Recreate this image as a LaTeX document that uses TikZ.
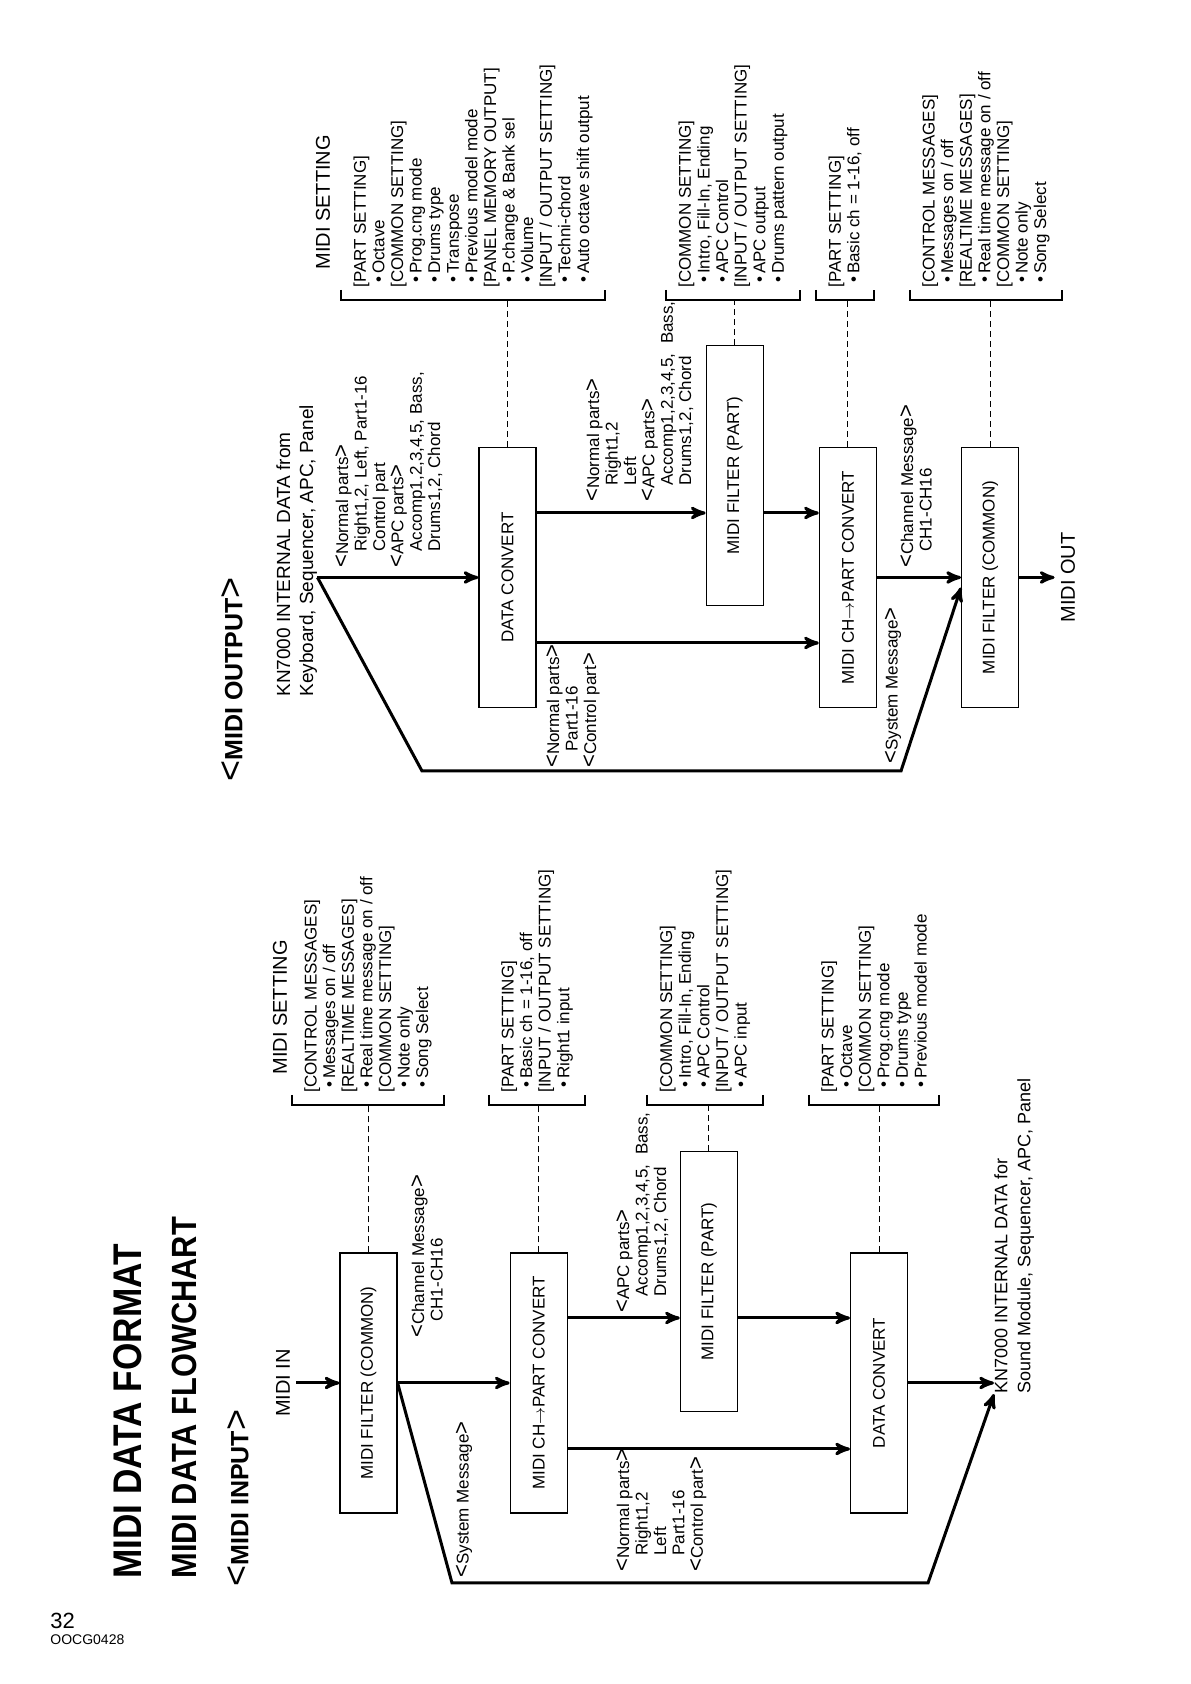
\documentclass[tikz,border=0pt]{standalone}
\usepackage{fontspec}
\setmainfont{Liberation Sans}
\newfontfamily\headfont{Liberation Sans}[FakeStretch=0.88]
\usetikzlibrary{arrows, positioning, calc}

\newcommand{\ltag}{{\fontsize{11}{9}\selectfont<}}
\newcommand{\rtag}{{\fontsize{11}{9}\selectfont>}}
\newcommand{\indt}{\hspace*{8pt}}
\newcommand{\itm}{\hspace*{2.5pt}\textbullet\,}

\tikzset{
  blk/.style={draw, line width=0.6pt, minimum width=130pt, minimum height=28.5pt, inner sep=0pt, font=\fontsize{8.5}{10}\selectfont},
  flow/.style={->, line width=1.5pt},
  lbl/.style={align=left, anchor=north west, inner sep=0pt, font=\fontsize{8.5}{9.2}\selectfont},
  setlist/.style={align=left, anchor=west, inner xsep=6pt, inner ysep=6pt, font=\fontsize{8.5}{9.3}\selectfont},
  brkline/.style={line width=1pt},
  dashlink/.style={line width=0.5pt, dash pattern=on 3pt off 2pt},
  hdr/.style={inner sep=0pt, anchor=west, font=\fontsize{10}{12}\selectfont},
  endtxt/.style={inner sep=3pt, font=\fontsize{10}{12}\selectfont},
  srctxt/.style={align=left, anchor=north west, inner sep=0pt, font=\fontsize{9.5}{11.5}\selectfont}
}

\begin{document}
\begin{tikzpicture}[>=stealth']
\useasboundingbox (0,0) rectangle (595pt,842pt);
\node[anchor=south west, inner sep=0pt, font=\fontsize{11}{13}\selectfont] (pgno) at (25pt,27.5pt) {32};
\node[anchor=north west, inner sep=0pt, font=\fontsize{7}{8}\selectfont] (pgcode) at (25pt,25pt) {OOCG0428};

\begin{scope}[rotate=90, transform shape, x=0.5pt, y=-0.5pt]
\node[anchor=west, inner sep=0pt, font=\fontsize{20}{24}\headfont\bfseries] (title) at (105,127.5) {MIDI DATA FORMAT};
\node[anchor=west, inner sep=0pt, font=\fontsize{17.5}{21}\headfont\bfseries] (subtitle) at (105,184.5) {MIDI DATA FLOWCHART};
\node[anchor=west, inner sep=0pt, font=\fontsize{12.5}{15}\bfseries] (intitle) at (97,238) {{\fontsize{18}{18}\mdseries<}MIDI INPUT{\fontsize{18}{18}\mdseries>}};
\node[anchor=west, inner sep=0pt, font=\fontsize{12.5}{15}\bfseries] (outtitle) at (902,232) {{\fontsize{18}{18}\mdseries<}MIDI OUTPUT{\fontsize{18}{18}\mdseries>}};

\node[blk] (f1) at (301,368.5) {MIDI FILTER (COMMON)};
\node[blk, below=56pt of f1] (ch1) {MIDI CH$\rightarrow$PART CONVERT};
\node[blk, below=56pt of ch1, xshift=50.75pt] (fp1) {MIDI FILTER (PART)};
\node[blk, below=56pt of fp1, xshift=-50.75pt] (dc1) {DATA CONVERT};

\node[blk] (dc2) at (1106.5,507.5) {DATA CONVERT};
\node[blk, below=84.5pt of dc2, xshift=51pt] (fp2) {MIDI FILTER (PART)};
\node[blk, below=27.5pt of fp2, xshift=-51pt] (ch2) {MIDI CH$\rightarrow$PART CONVERT};
\node[blk, below=42pt of ch2] (fc2) {MIDI FILTER (COMMON)};

\node[endtxt] (min) at (301,283) {MIDI IN};
\node[endtxt] (mout) at (1106.5,1068) {MIDI OUT};
\node[srctxt, font=\fontsize{9}{11.5}\selectfont] (kout) at (290,994) {KN7000 INTERNAL DATA for\\Sound Module, Sequencer, APC, Panel};
\node[srctxt] (kin) at (987,276) {KN7000 INTERNAL DATA from\\Keyboard, Sequencer, APC, Panel};

\node[lbl] (chmsg1) at (346,411) {\ltag Channel Message\rtag\\\indt CH1-CH16};
\node[lbl] (apc1) at (371,616) {\ltag APC parts\rtag\\\indt Accomp1,2,3,4,5,\ \ Bass,\\\indt Drums1,2, Chord};
\node[lbl, anchor=east] (sys1) at (263,464) {\ltag System Message\rtag};
\node[lbl] (norm1) at (112,616) {\ltag Normal parts\rtag\\\indt Right1,2\\\indt Left\\\indt Part1-16\\\ltag Control part\rtag};

\node[lbl] (norm2) at (1116,335) {\ltag Normal parts\rtag\\\indt Right1,2, Left, Part1-16\\\indt Control part\\\ltag APC parts\rtag\\\indt Accomp1,2,3,4,5, Bass,\\\indt Drums1,2, Chord};
\node[lbl] (norm3) at (1182,586) {\ltag Normal parts\rtag\\\indt Right1,2\\\indt Left\\\ltag APC parts\rtag\\\indt Accomp1,2,3,4,5,\ \ Bass,\\\indt Drums1,2, Chord};
\node[lbl] (norm4) at (916,546) {\ltag Normal parts\rtag\\\indt Part1-16\\\ltag Control part\rtag};
\node[lbl] (chmsg2) at (1116,900) {\ltag Channel Message\rtag\\\indt CH1-CH16};
\node[lbl, anchor=west] (sys2) at (920,893) {\ltag System Message\rtag};

\node[setlist] (s1) at (579,368) {[CONTROL MESSAGES]\\\itm Messages on / off\\{[}REALTIME MESSAGES]\\\itm Real time message on / off\\{[}COMMON SETTING]\\\itm Note only\\\itm Song Select};
\node[setlist] (s2) at (579,537) {[PART SETTING]\\\itm Basic ch = 1-16, off\\{[}INPUT / OUTPUT SETTING]\\\itm Right1 input};
\node[setlist] (s3) at (579,705) {[COMMON SETTING]\\\itm Intro, Fill-In, Ending\\\itm APC Control\\{[}INPUT / OUTPUT SETTING]\\\itm APC input};
\node[setlist] (s4) at (579,874) {[PART SETTING]\\\itm Octave\\{[}COMMON SETTING]\\\itm Prog.cng mode\\\itm Drums type\\\itm Previous model mode};
\node[setlist] (s5) at (1384,473) {[PART SETTING]\\\itm Octave\\{[}COMMON SETTING]\\\itm Prog.cng mode\\\itm Drums type\\\itm Transpose\\\itm Previous model mode\\{[}PANEL MEMORY OUTPUT]\\\itm P.change \& Bank sel\\\itm Volume\\{[}INPUT / OUTPUT SETTING]\\\itm Techni-chord\\\itm Auto octave shift output};
\node[setlist] (s6) at (1384,733) {[COMMON SETTING]\\\itm Intro, Fill-In, Ending\\\itm APC Control\\{[}INPUT / OUTPUT SETTING]\\\itm APC output\\\itm Drums pattern output};
\node[setlist] (s7) at (1384,845) {[PART SETTING]\\\itm Basic ch = 1-16, off};
\node[setlist] (s8) at (1384,986) {[CONTROL MESSAGES]\\\itm Messages on / off\\{[}REALTIME MESSAGES]\\\itm Real time message on / off\\{[}COMMON SETTING]\\\itm Note only\\\itm Song Select};

\node[hdr] (set1) at ($(s1.north west)+(30,-12)$) {MIDI SETTING};
\node[hdr] (set2) at ($(s5.north west)+(30,-18)$) {MIDI SETTING};

\foreach \sx in {s1,s2,s3,s4,s5,s6,s7,s8}
  \draw[brkline] ($(\sx.north west)+(10,0)$) -- (\sx.north west) -- (\sx.south west) -- ($(\sx.south west)+(10,0)$);
\foreach \bx/\sx in {f1/s1,ch1/s2,fp1/s3,dc1/s4,dc2/s5,fp2/s6,ch2/s7,fc2/s8}
  \draw[dashlink] (\bx.east) -- (\sx.west |- \bx.east);

\coordinate (tA) at (366,0);
\coordinate (tB) at (235,0);
\coordinate (tC) at (1171,0);
\coordinate (tD) at (1041,0);
\coordinate (sysA) at (101,452);
\coordinate (sysB) at (101,928);
\coordinate (sysC) at (913,422);
\coordinate (sysD) at (913,901);

\draw[flow] (min) -- (f1);
\draw[flow] (f1) -- (ch1);
\draw[flow] (tA |- ch1.south) -- (tA |- fp1.north);
\draw[flow] (tA |- fp1.south) -- (tA |- dc1.north);
\draw[flow] (tB |- ch1.south) -- (tB |- dc1.north);
\draw[flow] (dc1) -- (dc1.south |- kout.north);
\draw[flow] (f1.south) -- (sysA) -- (sysB) -- (kout.north west);

\draw[flow] (dc2.north |- kin.south) -- (dc2);
\draw[flow] (tC |- dc2.south) -- (tC |- fp2.north);
\draw[flow] (tC |- fp2.south) -- (tC |- ch2.north);
\draw[flow] (tD |- dc2.south) -- (tD |- ch2.north);
\draw[flow] (ch2) -- (fc2);
\draw[flow] (fc2) -- (mout);
\draw[flow] (dc2.north |- kin.south) -- (sysC) -- (sysD) -- ($(fc2.north)+(-10,0)$);
\end{scope}
\end{tikzpicture}
\end{document}
